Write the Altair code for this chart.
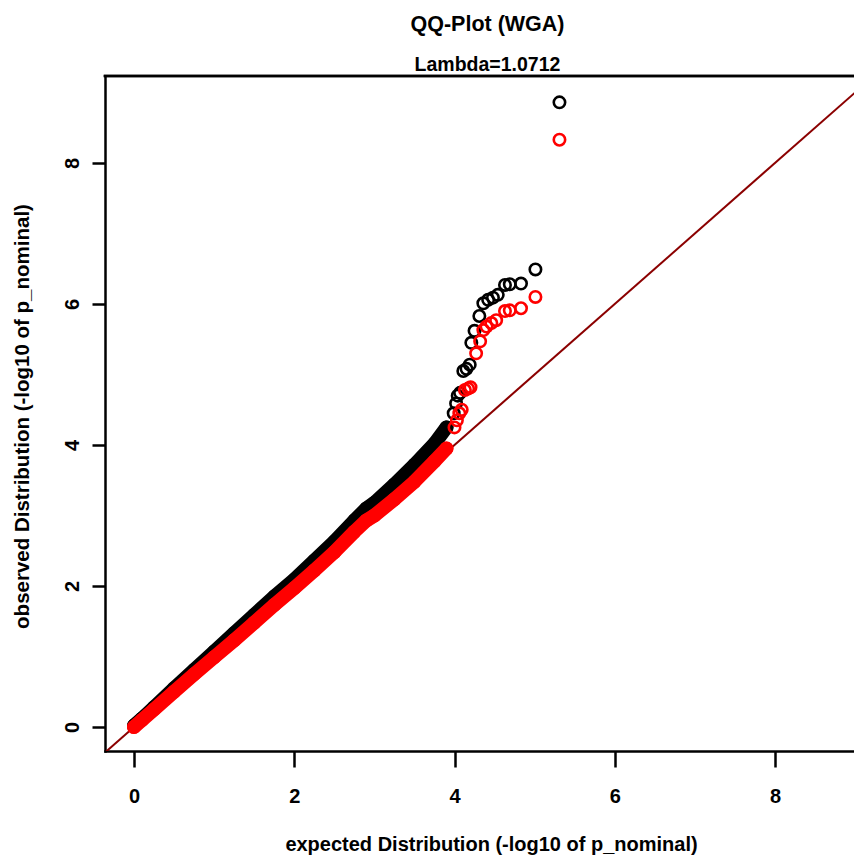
import altair as alt
import pandas as pd

# ---- data ----
# dense part of the QQ cloud (expected vs observed -log10 p), read along the band
band_expected = [0.00, 0.10, 0.25, 0.50, 0.75, 1.00, 1.25, 1.50, 1.75, 2.00, 2.25,
                 2.50, 2.75, 2.90, 3.00, 3.25, 3.50, 3.75, 3.90]
band_black = [0.02, 0.12, 0.28, 0.55, 0.81, 1.07, 1.33, 1.59, 1.85, 2.09, 2.36,
              2.63, 2.93, 3.10, 3.18, 3.44, 3.72, 4.02, 4.25]
band_red = [0.00, 0.10, 0.25, 0.50, 0.75, 0.99, 1.23, 1.48, 1.73, 1.97, 2.22,
            2.48, 2.77, 2.93, 3.00, 3.23, 3.48, 3.77, 3.95]

# sparse upper tail: individual circles
tail_black_expected = [5.31, 5.01, 4.83, 4.69, 4.63, 4.54, 4.48, 4.42, 4.36, 4.31,
                       4.25, 4.21, 4.19, 4.15, 4.11, 4.07, 4.04, 4.02, 3.99]
tail_black_observed = [8.86, 6.49, 6.29, 6.28, 6.27, 6.13, 6.09, 6.06, 6.01, 5.83,
                       5.62, 5.45, 5.14, 5.08, 5.05, 4.74, 4.70, 4.59, 4.45]
tail_red_expected = [5.31, 5.01, 4.83, 4.69, 4.63, 4.52, 4.46, 4.40, 4.36, 4.32,
                     4.27, 4.20, 4.17, 4.13, 4.09, 4.06, 4.03, 4.00]
tail_red_observed = [8.33, 6.10, 5.94, 5.91, 5.90, 5.77, 5.73, 5.68, 5.63, 5.47,
                     5.30, 4.82, 4.80, 4.78, 4.50, 4.45, 4.35, 4.25]

x_ticks = [0, 2, 4, 6, 8]
y_ticks = [0, 2, 4, 6, 8]
diag_line = [-1.0, 10.0]
x_range = [-0.362, 8.986]
y_range = [-0.340, 9.234]

title_text = "QQ-Plot (WGA)"
subtitle_text = "Lambda=1.0712"
x_title = "expected Distribution (-log10 of p_nominal)"
y_title = "observed Distribution (-log10 of p_nominal)"

# ---- styling ----
FONT = "Liberation Sans"
BLACK = "#000000"
RED = "#FF0000"
LINE = "#8B0000"

xs = alt.Scale(domain=x_range, nice=False, zero=False)
ys = alt.Scale(domain=y_range, nice=False, zero=False)

x_axis = alt.Axis(values=x_ticks, grid=False, domainColor=BLACK, domainWidth=2.5,
                  domainCap="square", tickColor=BLACK, tickWidth=2.5, tickSize=16,
                  labelFont=FONT, labelFontSize=20, labelFontWeight="bold",
                  labelColor=BLACK, labelBaseline="alphabetic", labelPadding=35,
                  labelFlush=False, labelOverlap=False,
                  title=x_title, titleFont=FONT, titleFontSize=20,
                  titleFontWeight="bold", titleColor=BLACK,
                  titleBaseline="alphabetic", titleY=99, titleX=386)
y_axis = alt.Axis(values=y_ticks, grid=False, domainColor=BLACK, domainWidth=2.5,
                  domainCap="square", tickColor=BLACK, tickWidth=2.5, tickSize=13,
                  labelFont=FONT, labelFontSize=20, labelFontWeight="bold",
                  labelColor=BLACK, labelAngle=270, labelAlign="center",
                  labelBaseline="alphabetic", labelPadding=14,
                  labelFlush=False, labelOverlap=False,
                  title=y_title, titleFont=FONT, titleFontSize=20.5,
                  titleFontWeight="bold", titleColor=BLACK, titleAngle=270,
                  titleAlign="center", titleBaseline="alphabetic",
                  titleX=-77, titleY=340)

diag_df = pd.DataFrame({"e": diag_line, "o": diag_line})
band_black_df = pd.DataFrame({"e": band_expected, "o": band_black})
band_red_df = pd.DataFrame({"e": band_expected, "o": band_red})
tail_black_df = pd.DataFrame({"e": tail_black_expected, "o": tail_black_observed})
tail_red_df = pd.DataFrame({"e": tail_red_expected, "o": tail_red_observed})


def enc(chart):
    return chart.encode(
        x=alt.X("e:Q", scale=xs, axis=x_axis),
        y=alt.Y("o:Q", scale=ys, axis=y_axis),
    )


diag = enc(alt.Chart(diag_df).mark_line(color=LINE, strokeWidth=2, clip=True))

# top edge of the plot frame (R draws a box; its right side lies outside the picture)
top_edge = alt.Chart(diag_df).mark_rule(color=BLACK, strokeWidth=2.5,
                                        strokeCap="square").encode(
    x=alt.datum(x_range[0], scale=xs, axis=x_axis),
    x2=alt.datum(x_range[1]),
    y=alt.datum(y_range[1], scale=ys, axis=y_axis),
)


def series(band_df, tail_df, color):
    band = enc(alt.Chart(band_df).mark_line(color=color, strokeWidth=14,
                                            strokeCap="round", strokeJoin="round"))
    band_pts = enc(alt.Chart(band_df).mark_point(shape="circle", filled=False,
                                                 color=color, size=130,
                                                 strokeWidth=2.6, opacity=1))
    tail_pts = enc(alt.Chart(tail_df).mark_point(shape="circle", filled=False,
                                                 color=color, size=130,
                                                 strokeWidth=2.6, opacity=1))
    return [band, band_pts, tail_pts]


layers = [diag, top_edge] + series(band_black_df, tail_black_df, BLACK) + \
    series(band_red_df, tail_red_df, RED)

chart = alt.layer(*layers).properties(
    width=749,
    height=675,
    padding={"left": 97, "top": 68, "right": 0, "bottom": 104},
    autosize=alt.AutoSizeParams(type="none"),
    background="white",
    title=alt.TitleParams(
        text=title_text, subtitle=subtitle_text, anchor="middle", frame="group",
        font=FONT, fontSize=21.5, fontWeight="bold", color=BLACK,
        subtitleFont=FONT, subtitleFontSize=19.5, subtitleFontWeight="bold",
        subtitleColor=BLACK, subtitlePadding=20, offset=0, dx=8,
    ),
).configure_view(stroke=None)

chart.save("out.html", embed_options={"renderer": "svg", "actions": False})
